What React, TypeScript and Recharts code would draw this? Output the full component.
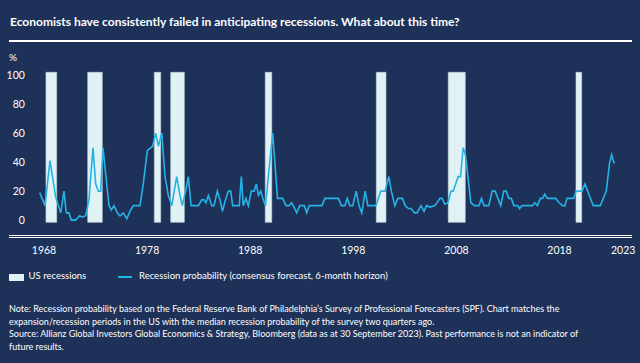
import React from "react";
import { ComposedChart, Line, XAxis, YAxis, ReferenceArea } from "recharts";

const probYears = [
  1967.58, 1968.1, 1968.58, 1969.13, 1969.62, 1969.94, 1970.16, 1970.42, 1970.65, 1971.07,
  1971.46, 1971.71, 1972.04, 1972.36, 1972.75, 1973.01, 1973.27, 1973.5, 1973.72, 1973.98,
  1974.3, 1974.53, 1974.79, 1975.11, 1975.37, 1975.69, 1976.02, 1976.41, 1976.66, 1977.31,
  1977.63, 1978.02, 1978.54, 1978.83, 1979.09, 1979.42, 1979.74, 1980.06, 1980.39, 1980.87,
  1981.19, 1981.41, 1981.74, 1982.0, 1982.26, 1982.97, 1983.3, 1983.52, 1983.71, 1983.94,
  1984.27, 1984.49, 1984.81, 1985.07, 1985.31, 1985.56, 1985.88, 1986.11, 1986.3, 1986.94,
  1987.14, 1987.33, 1987.59, 1987.82, 1988.11, 1988.37, 1988.59, 1988.8, 1989.03, 1989.24,
  1989.48, 1990.18, 1990.65, 1991.15, 1991.47, 1991.79, 1992.01, 1992.18, 1992.51, 1992.8,
  1993.24, 1993.48, 1993.73, 1994.96, 1995.25, 1996.56, 1996.84, 1997.19, 1997.41, 1997.65,
  1997.94, 1998.29, 1998.55, 1998.82, 1999.15, 1999.41, 2000.2, 2000.66, 2001.09, 2001.44,
  2001.69, 2002.03, 2002.32, 2002.77, 2003.03, 2003.35, 2003.6, 2003.94, 2004.18, 2004.57,
  2004.86, 2005.1, 2005.44, 2005.92, 2006.41, 2006.62, 2006.87, 2007.18, 2007.48, 2007.69,
  2008.17, 2008.4, 2008.66, 2008.88, 2009.4, 2009.76, 2010.19, 2010.43, 2010.68, 2011.14,
  2011.47, 2011.76, 2012.3, 2012.59, 2012.83, 2013.08, 2013.33, 2013.57, 2013.96, 2014.12,
  2014.36, 2015.38, 2015.6, 2015.85, 2016.14, 2016.35, 2016.57, 2016.82, 2017.63, 2017.97,
  2018.29, 2018.53, 2018.73, 2019.38, 2019.62, 2020.18, 2020.47, 2021.27, 2021.96, 2022.54,
  2022.85, 2023.06, 2023.31,
];

const probValues = [
  19, 10, 41, 16, 5, 20, 5, 5, 0, 0,
  3, 2, 3, 14, 50, 25, 20, 20, 50, 32,
  10, 7, 10, 5, 3, 5, 1, 7, 10, 10,
  25, 48, 51, 60, 51, 60, 30, 17, 10, 30,
  17, 10, 20, 30, 10, 10, 14, 14, 12, 17,
  10, 10, 20, 14, 6, 13, 20, 20, 10, 10,
  30, 10, 15, 10, 20, 20, 25, 17, 20, 15,
  10, 60, 15, 15, 10, 10, 12, 10, 5, 10,
  10, 5, 10, 10, 15, 15, 10, 10, 15, 10,
  10, 20, 10, 5, 20, 10, 10, 20, 20, 30,
  20, 10, 15, 15, 10, 8, 8, 5, 5, 10,
  6, 10, 9, 10, 15, 15, 11, 12, 20, 20,
  30, 30, 50, 45, 12, 10, 10, 15, 10, 10,
  20, 20, 10, 20, 20, 15, 15, 10, 10, 8,
  10, 10, 12, 10, 15, 15, 18, 15, 15, 12,
  10, 10, 15, 15, 20, 20, 25, 10, 10, 20,
  39, 45, 39,
];

const recessionStart = [1968.19, 1972.24, 1978.7, 1980.29, 1989.46, 2000.23, 2007.21, 2019.6];
const recessionEnd = [1969.23, 1973.65, 1979.32, 1981.61, 1990.09, 2001.17, 2008.86, 2020.15];

const xTicks = [1968, 1978, 1988, 1998, 2008, 2018, 2023];
const yTicks = [0, 20, 40, 60, 80, 100];

const noteLines = [
  "Note: Recession probability based on the Federal Reserve Bank of Philadelphia’s Survey of Professional Forecasters (SPF). Chart matches the",
  "expansion/recession periods in the US with the median recession probability of the survey two quarters ago.",
  "Source: Allianz Global Investors Global Economics & Strategy, Bloomberg (data as at 30 September 2023). Past performance is not an indicator of",
  "future results.",
];

const data = probYears.map((x, i) => ({ x, p: probValues[i] }));

const BG = "#1E3159";
const LINE = "#25B3E6";
const BAR = "#E1F2F5";
const FONT = "Lato, 'Open Sans', sans-serif";

const XTick = (props: any) => {
  const { x, y, payload } = props;
  const last = payload.value === xTicks[xTicks.length - 1];
  return (
    <text
      x={x}
      y={y + 32}
      fill="#FFFFFF"
      fontSize={10.5}
      fontFamily={FONT}
      textAnchor={last ? "start" : "middle"}
    >
      {payload.value}
    </text>
  );
};

export default function App() {
  return (
    <div
      style={{
        position: "absolute",
        left: 0,
        top: 0,
        width: 640,
        height: 363,
        background: BG,
        color: "#FFFFFF",
        fontFamily: FONT,
        overflow: "hidden",
      }}
    >
      <div
        style={{
          position: "absolute",
          left: 10,
          top: 14,
          fontSize: 12,
          fontWeight: 700,
          whiteSpace: "nowrap",
        }}
      >
        Economists have consistently failed in anticipating recessions. What about this time?
      </div>
      <div style={{ position: "absolute", left: 9, top: 40, width: 623, height: 2, background: "#FFFFFF" }} />
      <div style={{ position: "absolute", left: 9, top: 51, fontSize: 10 }}>%</div>

      <div style={{ position: "absolute", left: 0, top: 0 }}>
        <ComposedChart
          width={640}
          height={262.3}
          data={data}
          margin={{ top: 72.3, right: 23.8, bottom: 10, left: 0 }}
        >
          <XAxis
            dataKey="x"
            type="number"
            domain={[1967.5, 2023.5]}
            ticks={xTicks}
            axisLine={false}
            tickLine={false}
            tickSize={0}
            tickMargin={0}
            height={30}
            interval={0}
            tick={<XTick />}
          />
          <YAxis
            type="number"
            domain={[-1.5, 102]}
            ticks={yTicks}
            axisLine={false}
            tickLine={false}
            tickSize={0}
            tickMargin={14}
            width={38.85}
            tick={{ fill: "#FFFFFF", fontSize: 10.5, fontFamily: FONT }}
          />
          {recessionStart.map((s, i) => (
            <ReferenceArea
              key={i}
              x1={s}
              x2={recessionEnd[i]}
              y1={-1.5}
              y2={102}
              fill={BAR}
              fillOpacity={1}
              stroke="#C5D8DE"
              strokeWidth={0.6}
              ifOverflow="visible"
            />
          ))}
          <Line
            type="linear"
            dataKey="p"
            stroke={LINE}
            strokeWidth={1.6}
            dot={false}
            isAnimationActive={false}
          />
        </ComposedChart>
      </div>

      <div style={{ position: "absolute", left: 9, top: 235, width: 623, height: 1, background: "#FFFFFF" }} />
      <div style={{ position: "absolute", left: 9, top: 237, width: 623, height: 1, background: "#FFFFFF" }} />

      <div style={{ position: "absolute", left: 9, top: 274, width: 15, height: 7, background: BAR }} />
      <div style={{ position: "absolute", left: 28.6, top: 270, fontSize: 9.5, whiteSpace: "nowrap" }}>US recessions</div>
      <div style={{ position: "absolute", left: 117.5, top: 276, width: 14, height: 2, background: LINE }} />
      <div style={{ position: "absolute", left: 139, top: 270, fontSize: 9.5, whiteSpace: "nowrap" }}>
        Recession probability (consensus forecast, 6-month horizon)
      </div>

      {noteLines.map((t, i) => (
        <div
          key={i}
          style={{
            position: "absolute",
            left: 9,
            top: 303 + i * 12.7,
            fontSize: 9,
            lineHeight: "12px",
            whiteSpace: "nowrap",
          }}
        >
          {t}
        </div>
      ))}
    </div>
  );
}
